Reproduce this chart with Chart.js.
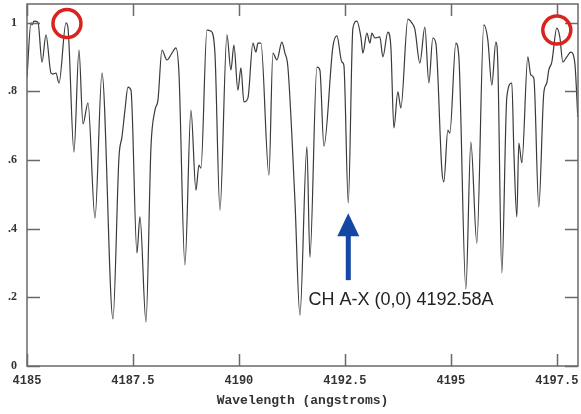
<!DOCTYPE html>
<html>
<head>
<meta charset="utf-8">
<script src="https://cdn.jsdelivr.net/npm/chart.js@4/dist/chart.umd.min.js"></script>
<style>
  html, body { margin: 0; padding: 0; background: #fff; }
  #spectre { display: block; }
</style>
</head>
<body>
<canvas id="spectre" width="581" height="414"></canvas>
<script>
// spectre normalisé autour de la bande CH A-X (0,0)
const longueurs = [
  4185.000,4185.094,4185.118,4185.165,4185.259,4185.354,4185.448,4185.566,4185.613,4185.684,
  4185.755,4185.920,4185.967,4186.108,4186.226,4186.321,4186.439,4186.604,4186.769,4187.028,
  4187.170,4187.241,4187.311,4187.382,4187.453,4187.594,4187.665,4187.807,4187.925,4188.019,
  4188.090,4188.184,4188.302,4188.420,4188.514,4188.585,4188.726,4188.868,4188.986,4189.057,
  4189.104,4189.245,4189.340,4189.434,4189.552,4189.717,4189.811,4189.882,4189.976,4190.047,
  4190.118,4190.212,4190.330,4190.401,4190.448,4190.519,4190.708,4190.802,4190.896,4191.014,
  4191.085,4191.156,4191.321,4191.439,4191.604,4191.675,4191.840,4191.910,4192.005,4192.217,
  4192.311,4192.429,4192.476,4192.580,4192.689,4192.783,4192.877,4192.925,4193.019,4193.090,
  4193.137,4193.208,4193.325,4193.396,4193.514,4193.585,4193.656,4193.750,4193.821,4193.986,
  4194.080,4194.151,4194.269,4194.387,4194.481,4194.575,4194.646,4194.788,4194.835,4194.929,
  4194.976,4195.118,4195.189,4195.354,4195.472,4195.613,4195.778,4195.873,4195.967,4196.061,
  4196.108,4196.203,4196.321,4196.439,4196.486,4196.557,4196.604,4196.675,4196.816,4196.887,
  4196.958,4197.075,4197.193,4197.264,4197.311,4197.382,4197.500,4197.571,4197.642,4197.736,
  4197.830,4197.925,4197.995
];
const flux = [
  0.841,0.999,0.993,1.004,1.001,0.885,0.964,0.853,0.850,0.853,
  0.824,0.999,0.984,0.623,0.920,0.705,0.766,0.431,0.853,0.137,
  0.608,0.667,0.745,0.812,0.803,0.329,0.434,0.128,0.638,0.745,
  0.774,0.920,0.891,0.911,0.926,0.853,0.294,0.745,0.512,0.585,
  0.576,0.978,0.975,0.911,0.454,0.964,0.862,0.934,0.803,0.868,
  0.769,0.780,0.940,0.914,0.940,0.940,0.556,0.911,0.891,0.943,
  0.911,0.870,0.483,0.148,0.638,0.317,0.870,0.862,0.640,0.929,
  0.961,0.885,0.876,0.475,0.984,1.004,0.958,0.911,0.969,0.940,
  0.969,0.955,0.958,0.900,0.972,0.929,0.693,0.798,0.751,1.010,
  0.999,0.981,0.882,0.987,0.824,0.955,0.940,0.571,0.536,0.687,
  0.678,0.940,0.900,0.224,0.652,0.358,0.993,0.949,0.818,0.943,
  0.882,0.271,0.783,0.824,0.629,0.434,0.649,0.591,0.900,0.847,
  0.838,0.463,0.795,0.824,0.862,0.885,0.984,0.958,0.885,0.900,
  0.914,0.882,0.725
];
const ticksX = [4185, 4187.5, 4190, 4192.5, 4195, 4197.5];
const ticksY = [0, 0.2, 0.4, 0.6, 0.8, 1];

// raie CH et points de continuum entourés
const raieCH = { lambda: 4192.58, texte: 'CH A-X (0,0) 4192.58A' };
const cercles = [
  { lambda: 4185.943, f: 0.997 },
  { lambda: 4197.500, f: 0.978 }
];

const points = longueurs.map((l, i) => ({ x: l, y: flux[i] }));

function etiquetteY(v) {
  if (v === 0) return '0';
  if (v === 1) return '1';
  return v.toFixed(1).replace('0.', '.');
}

// cadre + petites graduations vers l'intérieur, en haut/bas et gauche/droite
const cadre = {
  id: 'cadre',
  afterDatasetsDraw(chart) {
    const { ctx, chartArea: a, scales: { x, y } } = chart;
    ctx.save();
    ctx.strokeStyle = '#6a6a6a';
    ctx.lineWidth = 1.5;
    ctx.strokeRect(a.left, a.top, a.right - a.left, a.bottom - a.top);
    ctx.beginPath();
    ticksX.forEach(v => {
      const px = Math.round(x.getPixelForValue(v)) + 0.5;
      ctx.moveTo(px, a.bottom); ctx.lineTo(px, a.bottom - 12);
      ctx.moveTo(px, a.top); ctx.lineTo(px, a.top + 12);
    });
    ticksY.forEach(v => {
      const py = Math.round(y.getPixelForValue(v)) + 0.5;
      ctx.moveTo(a.left, py); ctx.lineTo(a.left + 13, py);
      ctx.moveTo(a.right, py); ctx.lineTo(a.right - 13, py);
    });
    ctx.stroke();
    ctx.restore();
  }
};

// flèche bleue, légende de la raie et cercles rouges
const annotations = {
  id: 'annotations',
  afterDraw(chart) {
    const { ctx, scales: { x, y } } = chart;
    ctx.save();
    const ax = x.getPixelForValue(raieCH.lambda);
    const pointe = y.getPixelForValue(0.445);
    const base = y.getPixelForValue(0.25);
    ctx.fillStyle = '#1347a3';
    ctx.fillRect(ax - 2.5, pointe + 20, 5, base - pointe - 20);
    ctx.beginPath();
    ctx.moveTo(ax, pointe);
    ctx.lineTo(ax + 11, pointe + 23);
    ctx.lineTo(ax - 11, pointe + 23);
    ctx.closePath();
    ctx.fill();

    ctx.fillStyle = '#222';
    ctx.font = '18px "Liberation Sans", Arial, sans-serif';
    ctx.textAlign = 'left';
    ctx.textBaseline = 'middle';
    ctx.fillText(raieCH.texte, x.getPixelForValue(4191.64), y.getPixelForValue(0.192));

    ctx.strokeStyle = '#d8231f';
    ctx.lineWidth = 3.5;
    cercles.forEach(c => {
      ctx.beginPath();
      ctx.arc(x.getPixelForValue(c.lambda), y.getPixelForValue(c.f), 14, 0, Math.PI * 2);
      ctx.stroke();
    });
    ctx.restore();
  }
};

new Chart(document.getElementById('spectre').getContext('2d'), {
  type: 'line',
  data: {
    datasets: [{
      data: points,
      borderColor: '#3a3a3a',
      borderWidth: 1.2,
      pointRadius: 0,
      fill: false,
      cubicInterpolationMode: 'monotone'
    }]
  },
  options: {
    responsive: false,
    animation: false,
    devicePixelRatio: 1,
    layout: { padding: { top: 4, right: 3, left: 0, bottom: 0 } },
    plugins: { legend: { display: false }, tooltip: { enabled: false } },
    scales: {
      x: {
        type: 'linear',
        min: 4185,
        max: 4198,
        grid: { display: false, drawTicks: false },
        border: { display: false },
        afterBuildTicks: s => { s.ticks = ticksX.map(v => ({ value: v })); },
        afterFit: s => { s.height = 48; s.paddingLeft = 0; s.paddingRight = 0; },
        ticks: {
          autoSkip: false,
          maxRotation: 0,
          padding: 8,
          color: '#333',
          font: { family: '"Liberation Mono", "Courier New", monospace', size: 12, weight: 'bold' },
          callback: v => String(v)
        },
        title: {
          display: true,
          text: 'Wavelength (angstroms)',
          color: '#333',
          padding: { top: 0, bottom: 5 },
          font: { family: '"Liberation Mono", "Courier New", monospace', size: 13, weight: 'bold' }
        }
      },
      y: {
        min: 0,
        max: 1.054,
        grid: { display: false, drawTicks: false },
        border: { display: false },
        afterBuildTicks: s => { s.ticks = ticksY.map(v => ({ value: v })); },
        afterFit: s => { s.width = 27; s.paddingTop = 0; s.paddingBottom = 0; },
        ticks: {
          padding: 10,
          color: '#333',
          font: { family: '"Liberation Serif", "Times New Roman", serif', size: 12, weight: 'bold' },
          callback: v => etiquetteY(v)
        }
      }
    }
  },
  plugins: [cadre, annotations]
});
</script>
</body>
</html>
